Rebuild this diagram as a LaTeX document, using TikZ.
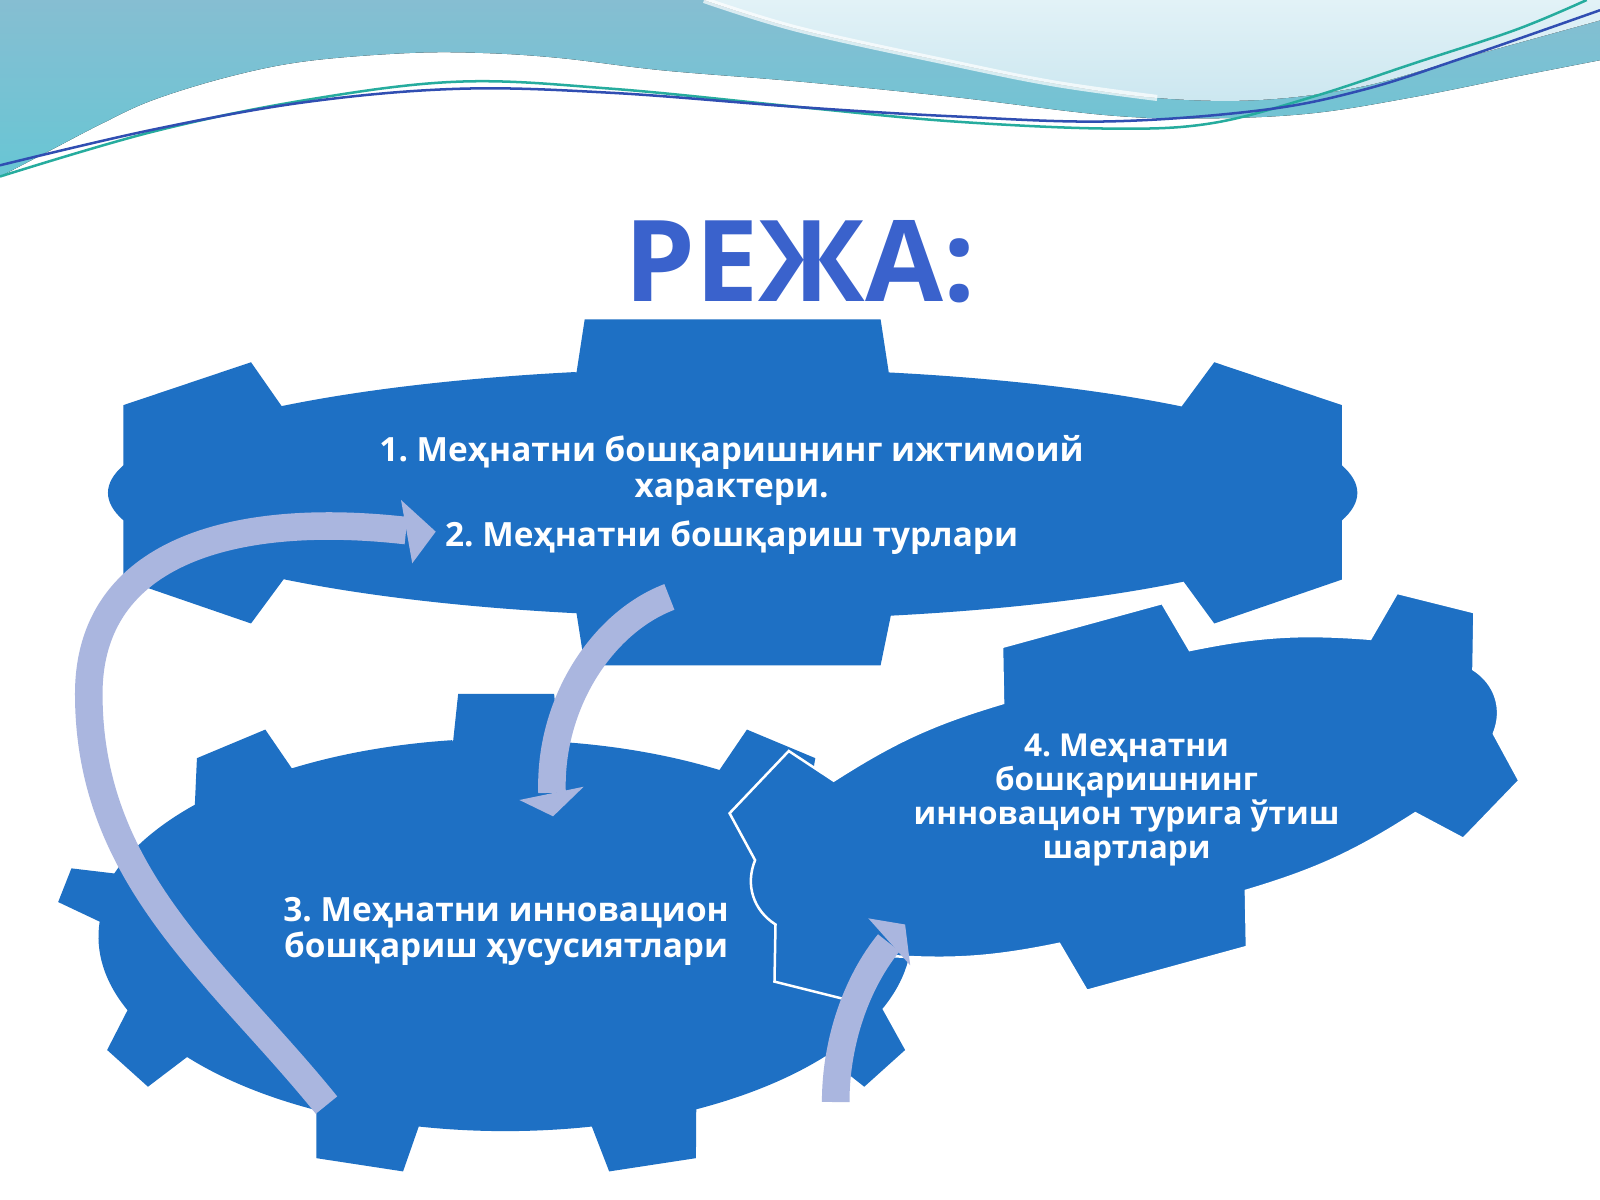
\documentclass[tikz,border=0pt]{standalone}
\usepackage{fontspec}
\setmainfont{Open Sans}
\definecolor{gearblue}{RGB}{30,112,196}
\definecolor{arrowlav}{RGB}{170,182,223}
\definecolor{titleblue}{RGB}{58,98,204}
\definecolor{waveteal}{RGB}{134,190,210}
\definecolor{wavecyan}{RGB}{104,198,212}
\definecolor{paleblue}{RGB}{226,242,247}
\definecolor{palesky}{RGB}{204,231,240}
\definecolor{linegreen}{RGB}{38,172,158}
\definecolor{lineblue}{RGB}{48,78,178}
\frenchspacing

\begin{document}
\begin{tikzpicture}[x=0.01cm, y=-0.01cm,
        gear/.style={fill=gearblue},
        plantext/.style={text=white, align=center, inner sep=0pt,
            font=\bfseries\fontsize{9.3}{10}\selectfont},
        flowarrow/.style={draw=arrowlav, line width=0.27cm},
        flowhead/.style={fill=arrowlav}]

    \useasboundingbox (0,0) rectangle (1568,1176);
    \fill[white] (0,0) rectangle (1568,1176);

    % wave at the top
    \fill[top color=waveteal, bottom color=wavecyan] (0,0) -- (1568,0)
        -- plot[smooth, tension=0.6] coordinates {(1568,59) (1486,75) (1386,95) (1286,111)
        (1186,116) (1086,113) (934,95) (784,80) (650,69) (550,57) (475,52) (400,52)
        (300,60) (225,75) (150,98) (100,121) (50,147) (0,173)} -- cycle;
    \fill[top color=paleblue, bottom color=palesky]
        plot[smooth, tension=0.6] coordinates {(690,0) (784,29) (934,62) (1034,82) (1134,96)
        (1234,98) (1334,85) (1434,57) (1568,20)} -- (1568,0) -- cycle;
    \draw[white, line width=0.06cm, opacity=0.7]
        plot[smooth, tension=0.6] coordinates {(690,0) (784,29) (934,62) (1034,82) (1134,96)};
    \draw[linegreen, line width=0.7pt] plot[smooth, tension=0.6] coordinates {(0,173) (150,129)
        (300,98) (450,80) (600,87) (784,105) (934,119) (1086,126) (1186,121) (1286,95)
        (1386,62) (1486,29) (1555,0)};
    \draw[lineblue, line width=0.7pt] plot[smooth, tension=0.6] coordinates {(0,162) (150,127)
        (300,100) (450,87) (600,91) (784,105) (934,114) (1086,119) (1236,108) (1336,88)
        (1436,56) (1568,10)};

    \node[text=titleblue, inner sep=0pt, font=\bfseries\fontsize{31.5}{31.5}\selectfont]
        (plan) at (784,256.5) {РЕЖА:};

    % gears
    \fill[gear] (565,365) -- (573,313) -- (863,313) -- (871,365)
        arc[start angle=-75.5, end angle=-44, x radius=612, y radius=122]
        -- (1190,355) -- (1315,397) -- (1315,456)
        arc[start angle=-12.8, end angle=12.8, x radius=612, y radius=122]
        -- (1315,568) -- (1190,611) -- (1160,570)
        arc[start angle=44, end angle=75.5, x radius=612, y radius=122]
        -- (863,652) -- (573,652) -- (565,601)
        arc[start angle=104.5, end angle=136, x radius=612, y radius=122]
        -- (246,611) -- (121,568) -- (121,510)
        arc[start angle=167.2, end angle=192.8, x radius=612, y radius=122]
        -- (121,397) -- (246,355) -- (276,398)
        arc[start angle=224, end angle=255.5, x radius=612, y radius=122] -- cycle;

    \fill[gear] (444,727) -- (449,680) -- (543,680) -- (548,727)
        arc[start angle=-82.4, end angle=-58, x radius=395, y radius=193]
        -- (732,715) -- (799,743) -- (791,790)
        arc[start angle=-41.4, end angle=-18.2, x radius=395, y radius=193]
        -- (922,851) -- (935,884) -- (892,902)
        arc[start angle=-4.4, end angle=21.9, x radius=395, y radius=193]
        -- (887,1029) -- (847,1065) -- (809,1035)
        arc[start angle=37.8, end angle=62, x radius=395, y radius=193]
        -- (682,1135) -- (597,1148) -- (580,1104)
        arc[start angle=77.6, end angle=102.4, x radius=395, y radius=193]
        -- (395,1148) -- (310,1135) -- (310,1088)
        arc[start angle=118, end angle=142.2, x radius=395, y radius=193]
        -- (145,1065) -- (105,1029) -- (125,990)
        arc[start angle=158.1, end angle=184.4, x radius=395, y radius=193]
        -- (57,884) -- (70,851) -- (112,856)
        arc[start angle=198.2, end angle=221.4, x radius=395, y radius=193]
        -- (193,743) -- (260,715) -- (286,753)
        arc[start angle=238, end angle=262.4, x radius=395, y radius=193] -- cycle;

    \filldraw[gear, draw=white, line width=0.7pt] (817,765) to[bend left=8] (983,689)
        -- (982,634) -- (1139,591) -- (1166,637) to[bend left=8] (1343,626)
        -- (1369,581) -- (1445,600) -- (1444,656) to[bend left=40] (1464,719)
        -- (1489,765) -- (1434,822) -- (1387,797) to[bend left=8] (1221,873)
        -- (1222,928) -- (1065,971) -- (1038,925) to[bend left=8] (861,936)
        -- (835,981) -- (759,962) -- (760,906) to[bend left=40] (740,843)
        -- (715,797) -- (773,736) -- cycle;

    % texts
    \node[plantext] (part12) at (717,485)
        {1. Меҳнатни бошқаришнинг ижтимоий\\ характери.\\[3.7pt] 2. Меҳнатни бошқариш турлари};
    \node[plantext] (part3) at (496,913) {3. Меҳнатни инновацион\\ бошқариш ҳусусиятлари};
    \node[plantext, font=\bfseries\fontsize{8.8}{9.4}\selectfont] (part4) at (1104,784)
        {4. Меҳнатни\\ бошқаришнинг\\ инновацион турига ўтиш\\ шартлари};

    % arrows
    \coordinate (tailA) at (320,1083);
    \coordinate (bendA) at (87,680);
    \coordinate (headA) at (398,520);
    \draw[flowarrow] (tailA) .. controls (214,952) and (87,860) .. (bendA)
        .. controls (87,540) and (230,501) .. (headA);
    \fill[flowhead] (393,490) -- (427,521) -- (404,552) -- cycle;

    \coordinate (tailB) at (656,585);
    \coordinate (headB) at (541,777);
    \draw[flowarrow] (tailB) .. controls (590,610) and (538,690) .. (headB);
    \fill[flowhead] (509,784) -- (542,800) -- (572,771) -- cycle;

    \coordinate (tailC) at (819,1080);
    \coordinate (headC) at (871,924);
    \draw[flowarrow] (tailC) .. controls (819,1020) and (840,962) .. (headC);
    \fill[flowhead] (851,900) -- (887,906) -- (892,946) -- cycle;
\end{tikzpicture}
\end{document}
